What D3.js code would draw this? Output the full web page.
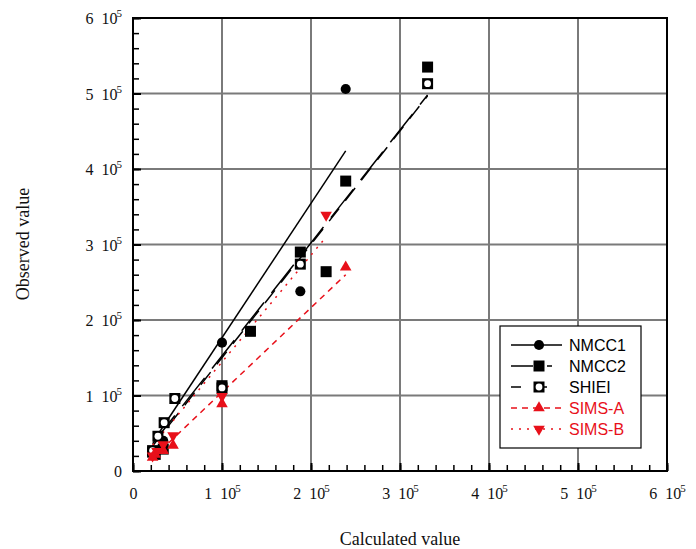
<!DOCTYPE html>
<html lang="en">
  <head>
    <meta charset="UTF-8" />
    <title>Observed vs calculated</title>
    <script src="https://d3js.org/d3.v7.min.js"></script>
    <style>
      body { margin: 0; background: #fff; }
      svg { display: block; }
    </style>
  </head>
  <body>
    <script>
      // values (units of 1e5)
      const nmcc1X = [2.39, 1.88, 1.0, 0.34, 0.22];
      const nmcc1Y = [5.06, 2.38, 1.70, 0.40, 0.23];
      const nmcc2X = [3.31, 2.39, 1.88, 2.17, 1.32, 1.0, 0.22, 0.34, 0.25];
      const nmcc2Y = [5.35, 3.84, 2.90, 2.64, 1.85, 1.13, 0.25, 0.29, 0.22];
      const shieiX = [3.31, 1.88, 1.0, 0.47, 0.35, 0.28, 0.22];
      const shieiY = [5.13, 2.74, 1.10, 0.96, 0.64, 0.46, 0.27];
      const simsAX = [2.39, 1.0, 0.45, 0.34, 0.25, 0.22];
      const simsAY = [2.70, 0.89, 0.34, 0.27, 0.22, 0.18];
      const simsBX = [2.17, 1.0, 0.45, 0.34, 0.27, 0.22];
      const simsBY = [3.39, 0.99, 0.47, 0.35, 0.26, 0.20];

      // fitted line ends [x0, y0, x1, y1]
      const nmcc1Fit = [0.25, 0.43, 2.39, 4.24];
      const nmcc2Fit = [0.22, 0.36, 3.31, 4.98];
      const shieiFit = [0.22, 0.33, 3.31, 4.97];
      const simsAFit = [0.22, 0.17, 2.39, 2.60];
      const simsBFit = [0.22, 0.34, 2.17, 3.10];

      const seriesNames = ["NMCC1", "NMCC2", "SHIEI", "SIMS-A", "SIMS-B"];
      const tickValues = [0, 1, 2, 3, 4, 5, 6];

      const width = 696;
      const height = 549;
      const margin = { left: 133, right: 29, top: 18, bottom: 78 };
      const red = "#e8101a";

      const svg = d3
        .select("body")
        .append("svg")
        .attr("width", width)
        .attr("height", height);

      const x = d3.scaleLinear().domain([0, 6]).range([margin.left, width - margin.right]);
      const y = d3.scaleLinear().domain([0, 6]).range([height - margin.bottom, margin.top]);

      // grid
      const grid = svg.append("g");
      grid
        .selectAll(".gx")
        .data(tickValues.slice(1, -1))
        .join("line")
        .attr("x1", (d) => x(d))
        .attr("x2", (d) => x(d))
        .attr("y1", y(0))
        .attr("y2", y(6))
        .attr("stroke", "#7a7a7a")
        .attr("stroke-width", 2);
      grid
        .selectAll(".gy")
        .data(tickValues.slice(1, -1))
        .join("line")
        .attr("x1", x(0))
        .attr("x2", x(6))
        .attr("y1", (d) => y(d))
        .attr("y2", (d) => y(d))
        .attr("stroke", "#7a7a7a")
        .attr("stroke-width", 2);

      // axes with inward ticks
      const minor = d3.range(0, 6.001, 0.2);
      const fmtTick = function (d) {
        const t = d3.select(this);
        t.text(null);
        if (d === 0) {
          t.text("0");
          return;
        }
        t.append("tspan").text(d + "\u00a0\u00a010");
        t.append("tspan").attr("font-size", 11).attr("dx", -1).attr("dy", -7).text("5");
      };

      const xAxis = svg
        .append("g")
        .attr("transform", `translate(0,${y(0)})`)
        .call(d3.axisBottom(x).tickValues(minor).tickSize(-6).tickFormat(""));
      xAxis.select(".domain").remove();
      xAxis.selectAll(".tick line").attr("stroke-width", 1.5);

      const xLabels = svg
        .append("g")
        .attr("transform", `translate(0,${y(0)})`)
        .call(d3.axisBottom(x).tickValues(tickValues).tickSize(-8));
      xLabels.select(".domain").remove();
      xLabels.selectAll(".tick line").attr("stroke-width", 2);
      xLabels
        .selectAll(".tick text")
        .attr("y", 28)
        .attr("dy", 0)
        .attr("font-family", "Liberation Serif, serif")
        .attr("font-size", 16)
        .attr("fill", "#111")
        .each(fmtTick);

      const yAxis = svg
        .append("g")
        .attr("transform", `translate(${x(0)},0)`)
        .call(d3.axisLeft(y).tickValues(minor).tickSize(-6).tickFormat(""));
      yAxis.select(".domain").remove();
      yAxis.selectAll(".tick line").attr("stroke-width", 1.5);

      const yLabels = svg
        .append("g")
        .attr("transform", `translate(${x(0)},0)`)
        .call(d3.axisLeft(y).tickValues(tickValues).tickSize(-8));
      yLabels.select(".domain").remove();
      yLabels.selectAll(".tick line").attr("stroke-width", 2);
      yLabels
        .selectAll(".tick text")
        .attr("x", -11)
        .attr("dy", "0.35em")
        .attr("font-family", "Liberation Serif, serif")
        .attr("font-size", 16)
        .attr("fill", "#111")
        .each(fmtTick);

      // fitted lines
      const fits = [
        { f: nmcc1Fit, color: "#000", dash: null },
        { f: nmcc2Fit, color: "#000", dash: "36,12" },
        { f: shieiFit, color: "#000", dash: "16,10" },
        { f: simsAFit, color: red, dash: "6,5" },
        { f: simsBFit, color: red, dash: "2,6" },
      ];
      svg
        .append("g")
        .selectAll("line")
        .data(fits)
        .join("line")
        .attr("x1", (d) => x(d.f[0]))
        .attr("y1", (d) => y(d.f[1]))
        .attr("x2", (d) => x(d.f[2]))
        .attr("y2", (d) => y(d.f[3]))
        .attr("stroke", (d) => d.color)
        .attr("stroke-width", 1.5)
        .attr("stroke-dasharray", (d) => d.dash);

      // markers
      const circleSym = d3.symbol(d3.symbolCircle, 80);
      const squareSym = d3.symbol(d3.symbolSquare, 121);
      const triSym = d3.symbol(d3.symbolTriangle, 58);

      function drawMarker(g, kind) {
        if (kind === 0) g.append("path").attr("d", circleSym()).attr("fill", "#000");
        if (kind === 1) g.append("path").attr("d", squareSym()).attr("fill", "#000");
        if (kind === 2) {
          g.append("path").attr("d", squareSym()).attr("fill", "#000");
          g.append("circle").attr("r", 3.4).attr("fill", "#fff");
        }
        if (kind === 3) g.append("path").attr("d", triSym()).attr("fill", red);
        if (kind === 4)
          g.append("path").attr("d", triSym()).attr("transform", "rotate(180)").attr("fill", red);
      }

      const pts = [
        [nmcc1X, nmcc1Y],
        [nmcc2X, nmcc2Y],
        [shieiX, shieiY],
        [simsAX, simsAY],
        [simsBX, simsBY],
      ];
      pts.forEach(([xs, ys], k) => {
        svg
          .append("g")
          .selectAll("g")
          .data(xs.map((v, i) => [v, ys[i]]))
          .join("g")
          .attr("transform", (d) => `translate(${x(d[0])},${y(d[1])})`)
          .each(function () {
            drawMarker(d3.select(this), k);
          });
      });

      // frame
      svg
        .append("rect")
        .attr("x", x(0))
        .attr("y", y(6))
        .attr("width", x(6) - x(0))
        .attr("height", y(0) - y(6))
        .attr("fill", "none")
        .attr("stroke", "#000")
        .attr("stroke-width", 2);

      // legend
      const legend = svg.append("g").attr("transform", "translate(500,326)");
      legend
        .append("rect")
        .attr("width", 141)
        .attr("height", 122)
        .attr("fill", "#fff")
        .attr("stroke", "#000")
        .attr("stroke-width", 1.2);
      const rows = legend
        .selectAll(".row")
        .data(seriesNames)
        .join("g")
        .attr("transform", (d, i) => `translate(0,${19 + i * 21})`);
      rows
        .append("line")
        .attr("x1", 11)
        .attr("x2", 62)
        .attr("stroke", (d, i) => fits[i].color)
        .attr("stroke-width", 1.5)
        .attr("stroke-dasharray", (d, i) => [null, "22,14,5,20", "10,21,5,20", "6,5", "2,6"][i]);
      rows.each(function (d, i) {
        const g = d3.select(this).append("g").attr("transform", "translate(39,0)");
        drawMarker(g, i);
      });
      rows
        .append("text")
        .attr("x", 69)
        .attr("dy", "0.36em")
        .attr("font-family", "Liberation Sans, Arial, sans-serif")
        .attr("font-size", 16)
        .attr("fill", (d, i) => (i < 3 ? "#000" : red))
        .text((d) => d);

      // axis titles
      svg
        .append("text")
        .attr("x", (x(0) + x(6)) / 2)
        .attr("y", 545)
        .attr("text-anchor", "middle")
        .attr("font-family", "Liberation Serif, serif")
        .attr("font-size", 18)
        .attr("fill", "#111")
        .text("Calculated value");
      svg
        .append("text")
        .attr("transform", "translate(29,244) rotate(-90)")
        .attr("text-anchor", "middle")
        .attr("font-family", "Liberation Serif, serif")
        .attr("font-size", 18)
        .attr("fill", "#111")
        .text("Observed value");
    </script>
  </body>
</html>
